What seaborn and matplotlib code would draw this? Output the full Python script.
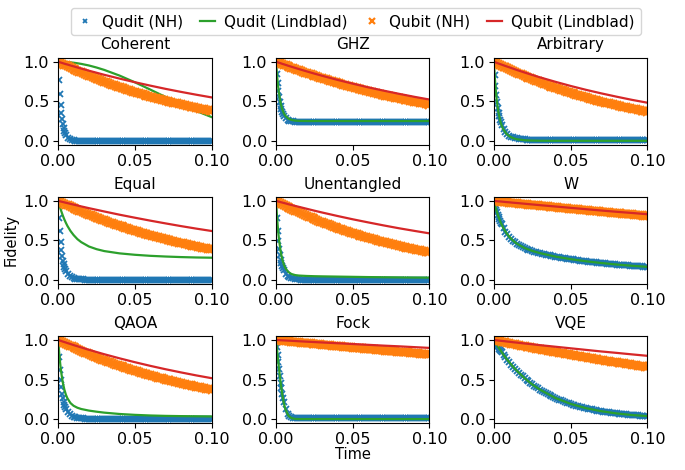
import matplotlib
matplotlib.use("Agg")
import matplotlib.pyplot as plt
import seaborn as sns

titles = ["Coherent", "GHZ", "Arbitrary", "Equal", "Unentangled", "W", "QAOA", "Fock", "VQE"]
series_labels = ["Qudit (NH)", "Qudit (Lindblad)", "Qubit (NH)", "Qubit (Lindblad)"]

# time grids: qudit NH markers, qubit NH markers, Lindblad lines
t_nh = [0.0, 0.0005, 0.001, 0.0015, 0.002, 0.0025, 0.003, 0.0035, 0.004, 0.0045,
        0.005, 0.00625, 0.0075, 0.00875, 0.01, 0.01125, 0.0125, 0.01375, 0.015, 0.01625,
        0.0175, 0.01875, 0.02, 0.02125, 0.0225, 0.02375, 0.025, 0.02625, 0.0275, 0.02875,
        0.03, 0.03125, 0.0325, 0.03375, 0.035, 0.03625, 0.0375, 0.03875, 0.04, 0.04125,
        0.0425, 0.04375, 0.045, 0.04625, 0.0475, 0.04875, 0.05, 0.05125, 0.0525, 0.05375,
        0.055, 0.05625, 0.0575, 0.05875, 0.06, 0.06125, 0.0625, 0.06375, 0.065, 0.06625,
        0.0675, 0.06875, 0.07, 0.07125, 0.0725, 0.07375, 0.075, 0.07625, 0.0775, 0.07875,
        0.08, 0.08125, 0.0825, 0.08375, 0.085, 0.08625, 0.0875, 0.08875, 0.09, 0.09125,
        0.0925, 0.09375, 0.095, 0.09625, 0.0975, 0.09875, 0.1]
t_qb = [0.0, 0.00125, 0.0025, 0.00375, 0.005, 0.00625, 0.0075, 0.00875, 0.01, 0.01125,
        0.0125, 0.01375, 0.015, 0.01625, 0.0175, 0.01875, 0.02, 0.02125, 0.0225, 0.02375,
        0.025, 0.02625, 0.0275, 0.02875, 0.03, 0.03125, 0.0325, 0.03375, 0.035, 0.03625,
        0.0375, 0.03875, 0.04, 0.04125, 0.0425, 0.04375, 0.045, 0.04625, 0.0475, 0.04875,
        0.05, 0.05125, 0.0525, 0.05375, 0.055, 0.05625, 0.0575, 0.05875, 0.06, 0.06125,
        0.0625, 0.06375, 0.065, 0.06625, 0.0675, 0.06875, 0.07, 0.07125, 0.0725, 0.07375,
        0.075, 0.07625, 0.0775, 0.07875, 0.08, 0.08125, 0.0825, 0.08375, 0.085, 0.08625,
        0.0875, 0.08875, 0.09, 0.09125, 0.0925, 0.09375, 0.095, 0.09625, 0.0975, 0.09875,
        0.1]
t_lb = [0.0, 0.0005, 0.001, 0.0015, 0.002, 0.003, 0.004, 0.005, 0.006, 0.008,
        0.01, 0.0125, 0.015, 0.02, 0.025, 0.03, 0.04, 0.05, 0.06, 0.07,
        0.08, 0.09, 0.1]

# Qudit (NH), on t_nh
qudit_nh_coherent = [1.0, 0.771, 0.595, 0.458, 0.353, 0.273, 0.210, 0.162, 0.125, 0.096,
                     0.074, 0.039, 0.020, 0.011, 0.006, 0.003, 0.002, 0.001, 0.0, 0.0,
                     0.0, 0.0, 0.0, 0.0, 0.0, 0.0, 0.0, 0.0, 0.0, 0.0,
                     0.0, 0.0, 0.0, 0.0, 0.0, 0.0, 0.0, 0.0, 0.0, 0.0,
                     0.0, 0.0, 0.0, 0.0, 0.0, 0.0, 0.0, 0.0, 0.0, 0.0,
                     0.0, 0.0, 0.0, 0.0, 0.0, 0.0, 0.0, 0.0, 0.0, 0.0,
                     0.0, 0.0, 0.0, 0.0, 0.0, 0.0, 0.0, 0.0, 0.0, 0.0,
                     0.0, 0.0, 0.0, 0.0, 0.0, 0.0, 0.0, 0.0, 0.0, 0.0,
                     0.0, 0.0, 0.0, 0.0, 0.0, 0.0, 0.0]
qudit_nh_ghz = [1.0, 0.847, 0.725, 0.627, 0.549, 0.487, 0.437, 0.397, 0.365, 0.340,
                0.320, 0.286, 0.266, 0.255, 0.248, 0.245, 0.243, 0.242, 0.241, 0.24,
                0.24, 0.24, 0.24, 0.24, 0.24, 0.24, 0.24, 0.24, 0.24, 0.24,
                0.24, 0.24, 0.24, 0.24, 0.24, 0.24, 0.24, 0.24, 0.24, 0.24,
                0.24, 0.24, 0.24, 0.24, 0.24, 0.24, 0.24, 0.24, 0.24, 0.24,
                0.24, 0.24, 0.24, 0.24, 0.24, 0.24, 0.24, 0.24, 0.24, 0.24,
                0.24, 0.24, 0.24, 0.24, 0.24, 0.24, 0.24, 0.24, 0.24, 0.24,
                0.24, 0.24, 0.24, 0.24, 0.24, 0.24, 0.24, 0.24, 0.24, 0.24,
                0.24, 0.24, 0.24, 0.24, 0.24, 0.24, 0.24]
qudit_nh_arbitrary = [1.0, 0.830, 0.693, 0.582, 0.492, 0.419, 0.358, 0.308, 0.266, 0.232,
                      0.203, 0.148, 0.111, 0.086, 0.067, 0.053, 0.043, 0.035, 0.030, 0.025,
                      0.022, 0.019, 0.017, 0.016, 0.014, 0.013, 0.013, 0.012, 0.012, 0.011,
                      0.011, 0.011, 0.011, 0.01, 0.01, 0.01, 0.01, 0.01, 0.01, 0.01,
                      0.01, 0.01, 0.01, 0.01, 0.01, 0.01, 0.01, 0.01, 0.01, 0.01,
                      0.01, 0.01, 0.01, 0.01, 0.01, 0.01, 0.01, 0.01, 0.01, 0.01,
                      0.01, 0.01, 0.01, 0.01, 0.01, 0.01, 0.01, 0.01, 0.01, 0.01,
                      0.01, 0.01, 0.01, 0.01, 0.01, 0.01, 0.01, 0.01, 0.01, 0.01,
                      0.01, 0.01, 0.01, 0.01, 0.01, 0.01, 0.01]
qudit_nh_equal = [1.0, 0.780, 0.613, 0.483, 0.383, 0.306, 0.245, 0.199, 0.161, 0.133,
                  0.109, 0.070, 0.047, 0.033, 0.024, 0.017, 0.013, 0.010, 0.008, 0.006,
                  0.005, 0.004, 0.003, 0.002, 0.002, 0.001, 0.001, 0.0, 0.0, 0.0,
                  0.0, 0.0, 0.0, 0.0, 0.0, 0.0, 0.0, 0.0, 0.0, 0.0,
                  0.0, 0.0, 0.0, 0.0, 0.0, 0.0, 0.0, 0.0, 0.0, 0.0,
                  0.0, 0.0, 0.0, 0.0, 0.0, 0.0, 0.0, 0.0, 0.0, 0.0,
                  0.0, 0.0, 0.0, 0.0, 0.0, 0.0, 0.0, 0.0, 0.0, 0.0,
                  0.0, 0.0, 0.0, 0.0, 0.0, 0.0, 0.0, 0.0, 0.0, 0.0,
                  0.0, 0.0, 0.0, 0.0, 0.0, 0.0, 0.0]
qudit_nh_unentangled = [1.0, 0.784, 0.618, 0.491, 0.393, 0.317, 0.258, 0.210, 0.174, 0.145,
                        0.121, 0.079, 0.054, 0.038, 0.027, 0.019, 0.013, 0.010, 0.007, 0.005,
                        0.004, 0.003, 0.002, 0.001, 0.001, 0.0, 0.0, 0.0, 0.0, 0.0,
                        0.0, 0.0, 0.0, 0.0, 0.0, 0.0, 0.0, 0.0, 0.0, 0.0,
                        0.0, 0.0, 0.0, 0.0, 0.0, 0.0, 0.0, 0.0, 0.0, 0.0,
                        0.0, 0.0, 0.0, 0.0, 0.0, 0.0, 0.0, 0.0, 0.0, 0.0,
                        0.0, 0.0, 0.0, 0.0, 0.0, 0.0, 0.0, 0.0, 0.0, 0.0,
                        0.0, 0.0, 0.0, 0.0, 0.0, 0.0, 0.0, 0.0, 0.0, 0.0,
                        0.0, 0.0, 0.0, 0.0, 0.0, 0.0, 0.0]
qudit_nh_w = [1.0, 0.960, 0.924, 0.889, 0.857, 0.826, 0.798, 0.771, 0.747, 0.724,
              0.702, 0.654, 0.612, 0.577, 0.546, 0.519, 0.497, 0.476, 0.458, 0.442,
              0.428, 0.415, 0.404, 0.394, 0.384, 0.375, 0.367, 0.359, 0.352, 0.345,
              0.339, 0.333, 0.327, 0.321, 0.316, 0.310, 0.306, 0.300, 0.296, 0.290,
              0.286, 0.282, 0.278, 0.274, 0.270, 0.266, 0.263, 0.259, 0.256, 0.252,
              0.249, 0.245, 0.242, 0.239, 0.236, 0.233, 0.230, 0.227, 0.224, 0.222,
              0.219, 0.216, 0.214, 0.211, 0.208, 0.206, 0.204, 0.201, 0.199, 0.197,
              0.195, 0.193, 0.191, 0.189, 0.187, 0.185, 0.183, 0.181, 0.179, 0.178,
              0.176, 0.174, 0.172, 0.171, 0.169, 0.168, 0.166]
qudit_nh_qaoa = [1.0, 0.789, 0.626, 0.498, 0.400, 0.323, 0.264, 0.216, 0.179, 0.148,
                 0.125, 0.083, 0.058, 0.041, 0.030, 0.022, 0.016, 0.013, 0.010, 0.008,
                 0.006, 0.005, 0.004, 0.003, 0.002, 0.002, 0.001, 0.001, 0.0, 0.0,
                 0.0, 0.0, 0.0, 0.0, 0.0, 0.0, 0.0, 0.0, 0.0, 0.0,
                 0.0, 0.0, 0.0, 0.0, 0.0, 0.0, 0.0, 0.0, 0.0, 0.0,
                 0.0, 0.0, 0.0, 0.0, 0.0, 0.0, 0.0, 0.0, 0.0, 0.0,
                 0.0, 0.0, 0.0, 0.0, 0.0, 0.0, 0.0, 0.0, 0.0, 0.0,
                 0.0, 0.0, 0.0, 0.0, 0.0, 0.0, 0.0, 0.0, 0.0, 0.0,
                 0.0, 0.0, 0.0, 0.0, 0.0, 0.0, 0.0]
qudit_nh_fock = [1.0, 0.907, 0.813, 0.719, 0.628, 0.542, 0.461, 0.388, 0.323, 0.265,
                 0.216, 0.124, 0.068, 0.037, 0.022, 0.015, 0.012, 0.011, 0.01, 0.01,
                 0.01, 0.01, 0.01, 0.01, 0.01, 0.01, 0.01, 0.01, 0.01, 0.01,
                 0.01, 0.01, 0.01, 0.01, 0.01, 0.01, 0.01, 0.01, 0.01, 0.01,
                 0.01, 0.01, 0.01, 0.01, 0.01, 0.01, 0.01, 0.01, 0.01, 0.01,
                 0.01, 0.01, 0.01, 0.01, 0.01, 0.01, 0.01, 0.01, 0.01, 0.01,
                 0.01, 0.01, 0.01, 0.01, 0.01, 0.01, 0.01, 0.01, 0.01, 0.01,
                 0.01, 0.01, 0.01, 0.01, 0.01, 0.01, 0.01, 0.01, 0.01, 0.01,
                 0.01, 0.01, 0.01, 0.01, 0.01, 0.01, 0.01]
qudit_nh_vqe = [1.0, 0.984, 0.968, 0.952, 0.936, 0.921, 0.906, 0.891, 0.876, 0.862,
                0.848, 0.814, 0.781, 0.749, 0.719, 0.690, 0.662, 0.635, 0.610, 0.585,
                0.561, 0.539, 0.517, 0.496, 0.476, 0.457, 0.438, 0.420, 0.403, 0.387,
                0.372, 0.356, 0.342, 0.328, 0.315, 0.302, 0.290, 0.278, 0.267, 0.256,
                0.246, 0.236, 0.227, 0.217, 0.209, 0.200, 0.192, 0.184, 0.177, 0.170,
                0.163, 0.156, 0.150, 0.144, 0.138, 0.132, 0.127, 0.122, 0.117, 0.112,
                0.108, 0.103, 0.099, 0.095, 0.091, 0.088, 0.084, 0.081, 0.077, 0.074,
                0.071, 0.068, 0.066, 0.063, 0.060, 0.058, 0.056, 0.053, 0.051, 0.049,
                0.047, 0.045, 0.044, 0.042, 0.040, 0.038, 0.037]

# Qudit (Lindblad), on t_lb
qudit_lb_coherent = [1.0, 1.0, 1.0, 1.0, 1.0, 0.999, 0.998, 0.997, 0.996, 0.992,
                     0.988, 0.981, 0.973, 0.953, 0.927, 0.897, 0.825, 0.740, 0.648, 0.554,
                     0.462, 0.377, 0.300]
qudit_lb_ghz = [1.0, 0.864, 0.753, 0.662, 0.587, 0.476, 0.401, 0.351, 0.318, 0.281,
                0.264, 0.255, 0.252, 0.25, 0.25, 0.25, 0.25, 0.25, 0.25, 0.25,
                0.25, 0.25, 0.25]
qudit_lb_arbitrary = [1.0, 0.829, 0.692, 0.579, 0.489, 0.354, 0.261, 0.196, 0.150, 0.092,
                      0.058, 0.034, 0.020, 0.007, 0.003, 0.001, 0.0, 0.0, 0.0, 0.0,
                      0.0, 0.0, 0.0]
qudit_lb_equal = [1.0, 0.964, 0.931, 0.899, 0.869, 0.814, 0.765, 0.722, 0.683, 0.619,
                  0.568, 0.516, 0.478, 0.423, 0.389, 0.365, 0.336, 0.318, 0.305, 0.296,
                  0.289, 0.284, 0.281]
qudit_lb_unentangled = [1.0, 0.837, 0.702, 0.591, 0.499, 0.359, 0.264, 0.198, 0.152, 0.100,
                        0.075, 0.061, 0.055, 0.050, 0.047, 0.045, 0.042, 0.039, 0.036, 0.034,
                        0.032, 0.030, 0.029]
qudit_lb_w = [1.0, 0.960, 0.924, 0.889, 0.857, 0.798, 0.747, 0.702, 0.663, 0.597,
              0.546, 0.497, 0.458, 0.404, 0.367, 0.339, 0.296, 0.263, 0.236, 0.214,
              0.195, 0.179, 0.166]
qudit_lb_qaoa = [1.0, 0.868, 0.757, 0.664, 0.585, 0.461, 0.373, 0.308, 0.262, 0.202,
                 0.168, 0.143, 0.127, 0.107, 0.093, 0.081, 0.064, 0.053, 0.045, 0.040,
                 0.037, 0.035, 0.033]
qudit_lb_fock = [1.0, 0.906, 0.811, 0.716, 0.624, 0.456, 0.316, 0.208, 0.130, 0.043,
                 0.012, 0.002, 0.0, 0.0, 0.0, 0.0, 0.0, 0.0, 0.0, 0.0,
                 0.0, 0.0, 0.0]
qudit_lb_vqe = [1.0, 0.984, 0.968, 0.952, 0.936, 0.906, 0.876, 0.848, 0.820, 0.768,
                0.719, 0.662, 0.610, 0.517, 0.438, 0.372, 0.267, 0.192, 0.138, 0.099,
                0.071, 0.051, 0.037]

# Qubit (NH), on t_qb
qubit_nh_coherent = [1.000, 0.988, 0.976, 0.964, 0.953, 0.942, 0.930, 0.919, 0.908, 0.897,
                     0.886, 0.875, 0.865, 0.855, 0.844, 0.834, 0.824, 0.814, 0.804, 0.794,
                     0.785, 0.776, 0.766, 0.757, 0.748, 0.739, 0.730, 0.721, 0.712, 0.703,
                     0.695, 0.687, 0.679, 0.671, 0.662, 0.654, 0.646, 0.638, 0.631, 0.623,
                     0.616, 0.609, 0.601, 0.594, 0.587, 0.580, 0.573, 0.566, 0.559, 0.552,
                     0.546, 0.539, 0.532, 0.526, 0.520, 0.514, 0.507, 0.501, 0.495, 0.489,
                     0.483, 0.477, 0.472, 0.466, 0.460, 0.454, 0.449, 0.444, 0.438, 0.433,
                     0.428, 0.423, 0.418, 0.413, 0.408, 0.403, 0.398, 0.393, 0.388, 0.383,
                     0.379]
qubit_nh_ghz = [1.000, 0.990, 0.981, 0.971, 0.962, 0.953, 0.943, 0.934, 0.925, 0.916,
                0.907, 0.898, 0.890, 0.881, 0.872, 0.864, 0.856, 0.848, 0.839, 0.831,
                0.823, 0.815, 0.807, 0.799, 0.791, 0.783, 0.776, 0.768, 0.761, 0.754,
                0.746, 0.739, 0.732, 0.725, 0.718, 0.711, 0.704, 0.697, 0.690, 0.683,
                0.677, 0.670, 0.664, 0.658, 0.651, 0.645, 0.639, 0.633, 0.626, 0.620,
                0.614, 0.608, 0.602, 0.596, 0.591, 0.585, 0.579, 0.573, 0.568, 0.562,
                0.557, 0.552, 0.546, 0.541, 0.536, 0.531, 0.525, 0.520, 0.515, 0.510,
                0.505, 0.500, 0.495, 0.490, 0.486, 0.481, 0.477, 0.472, 0.467, 0.462,
                0.458]
qubit_nh_arbitrary = [1.000, 0.988, 0.975, 0.963, 0.951, 0.939, 0.928, 0.916, 0.905, 0.894,
                      0.882, 0.871, 0.861, 0.850, 0.839, 0.829, 0.819, 0.809, 0.799, 0.789,
                      0.779, 0.769, 0.760, 0.751, 0.741, 0.732, 0.723, 0.714, 0.705, 0.696,
                      0.687, 0.678, 0.670, 0.662, 0.654, 0.646, 0.638, 0.630, 0.622, 0.614,
                      0.607, 0.599, 0.592, 0.585, 0.577, 0.570, 0.563, 0.556, 0.549, 0.542,
                      0.535, 0.528, 0.522, 0.516, 0.509, 0.503, 0.497, 0.491, 0.484, 0.478,
                      0.472, 0.466, 0.461, 0.455, 0.449, 0.443, 0.438, 0.433, 0.427, 0.422,
                      0.417, 0.412, 0.407, 0.402, 0.397, 0.392, 0.387, 0.382, 0.377, 0.372,
                      0.368]
qubit_nh_equal = [1.000, 0.988, 0.977, 0.965, 0.954, 0.943, 0.931, 0.920, 0.909, 0.898,
                  0.888, 0.878, 0.867, 0.857, 0.847, 0.837, 0.827, 0.817, 0.807, 0.797,
                  0.788, 0.779, 0.770, 0.761, 0.752, 0.743, 0.734, 0.725, 0.717, 0.709,
                  0.700, 0.692, 0.684, 0.676, 0.668, 0.660, 0.652, 0.644, 0.637, 0.629,
                  0.622, 0.615, 0.607, 0.600, 0.593, 0.586, 0.579, 0.572, 0.565, 0.558,
                  0.552, 0.545, 0.539, 0.533, 0.526, 0.520, 0.514, 0.508, 0.502, 0.496,
                  0.490, 0.484, 0.479, 0.473, 0.467, 0.461, 0.456, 0.451, 0.446, 0.441,
                  0.435, 0.430, 0.425, 0.420, 0.415, 0.410, 0.405, 0.400, 0.396, 0.391,
                  0.387]
qubit_nh_unentangled = [1.000, 0.987, 0.974, 0.961, 0.949, 0.937, 0.924, 0.912, 0.900, 0.888,
                        0.877, 0.866, 0.854, 0.843, 0.832, 0.821, 0.811, 0.800, 0.790, 0.780,
                        0.769, 0.759, 0.749, 0.739, 0.730, 0.720, 0.711, 0.702, 0.692, 0.683,
                        0.675, 0.666, 0.657, 0.648, 0.640, 0.632, 0.623, 0.615, 0.607, 0.599,
                        0.592, 0.584, 0.576, 0.568, 0.561, 0.554, 0.547, 0.540, 0.533, 0.526,
                        0.519, 0.512, 0.505, 0.498, 0.492, 0.486, 0.480, 0.474, 0.467, 0.461,
                        0.455, 0.449, 0.443, 0.437, 0.432, 0.426, 0.421, 0.416, 0.410, 0.405,
                        0.399, 0.394, 0.389, 0.384, 0.379, 0.374, 0.369, 0.364, 0.359, 0.354,
                        0.350]
qubit_nh_w = [1.000, 0.997, 0.995, 0.992, 0.990, 0.987, 0.984, 0.981, 0.979, 0.976,
              0.974, 0.971, 0.969, 0.966, 0.964, 0.961, 0.959, 0.956, 0.954, 0.951,
              0.949, 0.947, 0.944, 0.942, 0.939, 0.937, 0.934, 0.932, 0.929, 0.927,
              0.924, 0.922, 0.919, 0.917, 0.915, 0.912, 0.910, 0.908, 0.905, 0.903,
              0.900, 0.898, 0.896, 0.894, 0.891, 0.889, 0.886, 0.884, 0.882, 0.880,
              0.877, 0.875, 0.872, 0.870, 0.868, 0.866, 0.863, 0.861, 0.859, 0.857,
              0.854, 0.852, 0.850, 0.848, 0.845, 0.843, 0.841, 0.839, 0.836, 0.834,
              0.832, 0.830, 0.828, 0.826, 0.823, 0.821, 0.819, 0.817, 0.815, 0.813,
              0.811]
qubit_nh_qaoa = [1.000, 0.988, 0.976, 0.964, 0.952, 0.940, 0.929, 0.918, 0.906, 0.895,
                 0.884, 0.873, 0.862, 0.851, 0.841, 0.831, 0.820, 0.810, 0.800, 0.790,
                 0.781, 0.771, 0.762, 0.753, 0.743, 0.734, 0.725, 0.716, 0.707, 0.698,
                 0.690, 0.682, 0.673, 0.665, 0.656, 0.648, 0.640, 0.632, 0.625, 0.617,
                 0.610, 0.602, 0.595, 0.588, 0.580, 0.573, 0.566, 0.559, 0.552, 0.545,
                 0.539, 0.532, 0.525, 0.519, 0.513, 0.507, 0.500, 0.494, 0.488, 0.482,
                 0.476, 0.470, 0.464, 0.458, 0.453, 0.447, 0.442, 0.437, 0.431, 0.426,
                 0.420, 0.415, 0.410, 0.405, 0.400, 0.395, 0.390, 0.385, 0.381, 0.376,
                 0.372]
qubit_nh_fock = [1.000, 0.998, 0.995, 0.993, 0.990, 0.988, 0.985, 0.983, 0.980, 0.978,
                 0.975, 0.973, 0.970, 0.968, 0.966, 0.964, 0.961, 0.959, 0.956, 0.954,
                 0.951, 0.949, 0.946, 0.944, 0.942, 0.940, 0.937, 0.935, 0.932, 0.930,
                 0.928, 0.926, 0.923, 0.921, 0.919, 0.917, 0.914, 0.912, 0.910, 0.908,
                 0.905, 0.903, 0.900, 0.898, 0.896, 0.894, 0.891, 0.889, 0.887, 0.885,
                 0.882, 0.880, 0.878, 0.876, 0.874, 0.872, 0.869, 0.867, 0.865, 0.863,
                 0.861, 0.859, 0.856, 0.854, 0.852, 0.850, 0.848, 0.846, 0.844, 0.842,
                 0.839, 0.837, 0.835, 0.833, 0.831, 0.829, 0.827, 0.825, 0.823, 0.821,
                 0.819]
qubit_nh_vqe = [1.000, 0.995, 0.990, 0.985, 0.979, 0.974, 0.969, 0.964, 0.959, 0.954,
                0.949, 0.944, 0.940, 0.935, 0.930, 0.925, 0.920, 0.915, 0.911, 0.906,
                0.901, 0.896, 0.892, 0.887, 0.883, 0.878, 0.874, 0.869, 0.865, 0.861,
                0.856, 0.852, 0.847, 0.843, 0.838, 0.834, 0.830, 0.826, 0.821, 0.817,
                0.813, 0.809, 0.804, 0.800, 0.796, 0.792, 0.788, 0.784, 0.780, 0.776,
                0.772, 0.768, 0.764, 0.760, 0.756, 0.752, 0.748, 0.744, 0.740, 0.736,
                0.732, 0.728, 0.725, 0.721, 0.717, 0.713, 0.710, 0.706, 0.703, 0.699,
                0.695, 0.691, 0.688, 0.684, 0.681, 0.677, 0.674, 0.671, 0.667, 0.664,
                0.660]

# Qubit (Lindblad), on t_lb
qubit_lb_coherent = [1.0, 0.997, 0.994, 0.991, 0.988, 0.982, 0.976, 0.970, 0.965, 0.953,
                     0.942, 0.928, 0.914, 0.887, 0.861, 0.835, 0.787, 0.741, 0.698, 0.657,
                     0.619, 0.583, 0.549]
qubit_lb_ghz = [1.0, 0.997, 0.994, 0.990, 0.987, 0.981, 0.974, 0.968, 0.962, 0.949,
                0.937, 0.922, 0.907, 0.878, 0.850, 0.823, 0.771, 0.723, 0.677, 0.635,
                0.595, 0.557, 0.522]
qubit_lb_arbitrary = [1.0, 0.996, 0.993, 0.989, 0.985, 0.978, 0.971, 0.964, 0.957, 0.943,
                      0.930, 0.913, 0.896, 0.864, 0.833, 0.803, 0.747, 0.694, 0.645, 0.600,
                      0.558, 0.518, 0.482]
qubit_lb_equal = [1.0, 0.998, 0.995, 0.993, 0.990, 0.986, 0.981, 0.976, 0.972, 0.962,
                  0.953, 0.942, 0.930, 0.908, 0.887, 0.866, 0.825, 0.787, 0.750, 0.715,
                  0.681, 0.649, 0.619]
qubit_lb_unentangled = [1.0, 0.997, 0.995, 0.992, 0.989, 0.984, 0.979, 0.974, 0.969, 0.958,
                        0.948, 0.936, 0.924, 0.900, 0.876, 0.853, 0.809, 0.767, 0.728, 0.690,
                        0.654, 0.621, 0.589]
qubit_lb_w = [1.0, 0.999, 0.998, 0.997, 0.996, 0.994, 0.993, 0.991, 0.989, 0.985,
              0.982, 0.977, 0.973, 0.964, 0.955, 0.946, 0.929, 0.912, 0.895, 0.878,
              0.862, 0.847, 0.831]
qubit_lb_qaoa = [1.0, 0.997, 0.993, 0.990, 0.987, 0.980, 0.974, 0.968, 0.961, 0.949,
                 0.936, 0.921, 0.906, 0.876, 0.848, 0.820, 0.768, 0.719, 0.673, 0.630,
                 0.590, 0.552, 0.517]
qubit_lb_fock = [1.0, 0.999, 0.999, 0.998, 0.998, 0.997, 0.996, 0.995, 0.994, 0.992,
                 0.990, 0.987, 0.984, 0.979, 0.974, 0.969, 0.959, 0.949, 0.939, 0.929,
                 0.920, 0.910, 0.900]
qubit_lb_vqe = [1.0, 0.999, 0.998, 0.997, 0.996, 0.993, 0.991, 0.989, 0.987, 0.982,
                0.978, 0.972, 0.967, 0.956, 0.946, 0.935, 0.915, 0.895, 0.875, 0.855,
                0.837, 0.818, 0.800]

qudit_nh = [qudit_nh_coherent, qudit_nh_ghz, qudit_nh_arbitrary, qudit_nh_equal,
            qudit_nh_unentangled, qudit_nh_w, qudit_nh_qaoa, qudit_nh_fock, qudit_nh_vqe]
qudit_lb = [qudit_lb_coherent, qudit_lb_ghz, qudit_lb_arbitrary, qudit_lb_equal,
            qudit_lb_unentangled, qudit_lb_w, qudit_lb_qaoa, qudit_lb_fock, qudit_lb_vqe]
qubit_nh = [qubit_nh_coherent, qubit_nh_ghz, qubit_nh_arbitrary, qubit_nh_equal,
            qubit_nh_unentangled, qubit_nh_w, qubit_nh_qaoa, qubit_nh_fock, qubit_nh_vqe]
qubit_lb = [qubit_lb_coherent, qubit_lb_ghz, qubit_lb_arbitrary, qubit_lb_equal,
            qubit_lb_unentangled, qubit_lb_w, qubit_lb_qaoa, qubit_lb_fock, qubit_lb_vqe]

c_blue, c_green, c_orange, c_red = "#1f77b4", "#2ca02c", "#ff7f0e", "#d62728"

fig, axes = plt.subplots(3, 3, figsize=(6.85, 4.7), dpi=100)
fig.subplots_adjust(left=0.085, right=0.945, top=0.877, bottom=0.1, wspace=0.42, hspace=0.6)

for i, ax in enumerate(axes.flat):
    sns.lineplot(x=t_nh, y=qudit_nh[i], ax=ax, color=c_blue, marker="x", linestyle="",
                 markersize=5, markeredgecolor=c_blue, markeredgewidth=1.3,
                 errorbar=None, label=series_labels[0])
    sns.lineplot(x=t_lb, y=qudit_lb[i], ax=ax, color=c_green, linewidth=1.6,
                 errorbar=None, label=series_labels[1])
    sns.lineplot(x=t_qb, y=qubit_nh[i], ax=ax, color=c_orange, marker="x", linestyle="",
                 markersize=5.5, markeredgecolor=c_orange, markeredgewidth=1.6,
                 errorbar=None, label=series_labels[2])
    sns.lineplot(x=t_lb, y=qubit_lb[i], ax=ax, color=c_red, linewidth=1.6,
                 errorbar=None, label=series_labels[3])
    if ax.get_legend() is not None:
        ax.get_legend().remove()
    ax.set_xlim(0, 0.1)
    ax.set_ylim(-0.05, 1.05)
    ax.set_xticks([0.0, 0.05, 0.1])
    ax.set_xticklabels(["0.00", "0.05", "0.10"])
    ax.set_yticks([0.0, 0.5, 1.0])
    ax.set_yticklabels(["0.0", "0.5", "1.0"])
    ax.tick_params(labelsize=11.5, pad=3)
    ax.set_title(titles[i], fontsize=11)

axes[1, 0].set_ylabel("Fidelity", fontsize=10.5)
axes[2, 1].set_xlabel("Time", fontsize=10.5, labelpad=0)

handles, labels = axes[0, 0].get_legend_handles_labels()
fig.legend(handles, labels, loc="upper center", bbox_to_anchor=(0.52, 0.983), ncol=4,
           fontsize=11, handlelength=1.0, handletextpad=0.6, columnspacing=1.1,
           borderaxespad=0, markerscale=0.7)

fig.savefig("out.png", dpi=100)
